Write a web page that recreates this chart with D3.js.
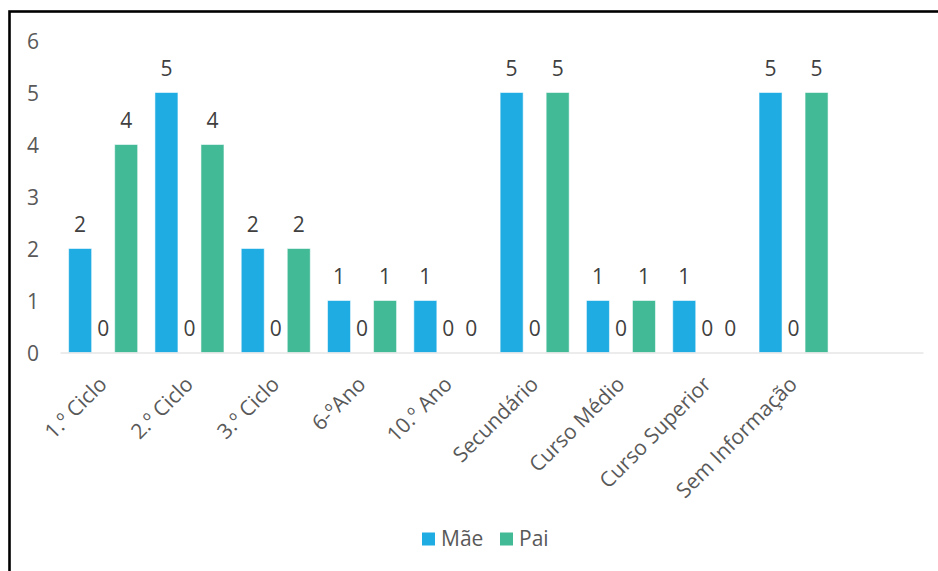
<!DOCTYPE html>
<html>
<head>
<meta charset="utf-8">
<script src="https://cdn.jsdelivr.net/npm/d3@7"></script>
<style>
  html, body { margin: 0; padding: 0; background: #fff; }
  svg { display: block; }
  text { font-family: "Open Sans", "DejaVu Sans", sans-serif; }
</style>
</head>
<body>
<svg id="chart" width="938" height="571"></svg>
<script>
// Escolaridade dos pais: número de casos por nível
const categories = ["1.º Ciclo", "2.º Ciclo", "3.º Ciclo", "6-ºAno", "10.º Ano",
                    "Secundário", "Curso Médio", "Curso Superior", "Sem Informação"];
const maeValues = [2, 5, 2, 1, 1, 5, 1, 1, 5];
const semRegisto = [0, 0, 0, 0, 0, 0, 0, 0, 0];   // série sem entrada na legenda
const paiValues = [4, 4, 2, 1, 0, 5, 1, 0, 5];
const yTicks = [0, 1, 2, 3, 4, 5, 6];

const series = [
  { key: "Mãe", values: maeValues, color: "#1EACE3", legend: true },
  { key: "", values: semRegisto, color: "none", legend: false },
  { key: "Pai", values: paiValues, color: "#43BA96", legend: true }
];

const svg = d3.select("#chart");
const W = 938, H = 571;
const plot = { left: 60, right: 923, top: 40.5, bottom: 352.5 };

// Chart frame
svg.append("rect")
  .attr("x", 9.5).attr("y", 11.5)
  .attr("width", W + 20).attr("height", H + 20)
  .attr("fill", "none").attr("stroke", "#000").attr("stroke-width", 2.6);

// One trailing empty slot on the category axis
const slots = categories.concat([" "]);

const x0 = d3.scaleBand()
  .domain(slots)
  .range([plot.left, plot.right])
  .paddingInner(0.2)
  .paddingOuter(0.1);

const x1 = d3.scaleBand()
  .domain(d3.range(series.length))
  .range([0, x0.bandwidth()]);

const y = d3.scaleLinear()
  .domain([0, 6])
  .range([plot.bottom, plot.top]);

// Y axis labels
const yAxis = svg.append("g")
  .attr("transform", `translate(${plot.left},0)`)
  .call(d3.axisLeft(y).tickValues(yTicks).tickSize(0).tickPadding(21).tickFormat(d3.format("d")));
yAxis.select(".domain").remove();
yAxis.selectAll("text")
  .attr("fill", "#595959")
  .style("font-size", "21px")
  .attr("dy", "0.38em");

// Bars
const groups = svg.append("g").selectAll("g")
  .data(categories)
  .join("g")
  .attr("transform", d => `translate(${x0(d)},0)`);

groups.each(function(cat, ci) {
  const g = d3.select(this);
  series.forEach((s, si) => {
    const v = s.values[ci];
    if (s.color !== "none" && v > 0) {
      g.append("rect")
        .attr("x", x1(si))
        .attr("y", y(v))
        .attr("width", x1.bandwidth())
        .attr("height", y(0) - y(v))
        .attr("fill", s.color)
        .attr("stroke", "#ffffff")
        .attr("stroke-opacity", 0.55)
        .attr("stroke-width", 1);
    }
    g.append("text")
      .attr("x", x1(si) + x1.bandwidth() / 2)
      .attr("y", y(v) - 17)
      .attr("text-anchor", "middle")
      .attr("fill", "#404040")
      .style("font-size", "21px")
      .text(v);
  });
});

// Category axis
const xAxis = svg.append("g")
  .attr("transform", `translate(0,${plot.bottom})`)
  .call(d3.axisBottom(x0).tickSize(0).tickPadding(0));
xAxis.select(".domain")
  .attr("stroke", "#D9D9D9")
  .attr("stroke-width", 1.2);
xAxis.selectAll("text")
  .attr("fill", "#595959")
  .style("font-size", "21px")
  .attr("text-anchor", "end")
  .attr("dy", null)
  .attr("y", null)
  .attr("transform", "translate(5,33) rotate(-45)");

// Legend
const legendItems = series.filter(s => s.legend);
const legendX = [422, 500];
const legend = svg.append("g");
legendItems.forEach((s, i) => {
  legend.append("rect")
    .attr("x", legendX[i]).attr("y", 532.5)
    .attr("width", 13).attr("height", 13)
    .attr("fill", s.color);
  legend.append("text")
    .attr("x", legendX[i] + 19).attr("y", 546)
    .attr("fill", "#595959")
    .style("font-size", "21px")
    .text(s.key);
});
</script>
</body>
</html>
